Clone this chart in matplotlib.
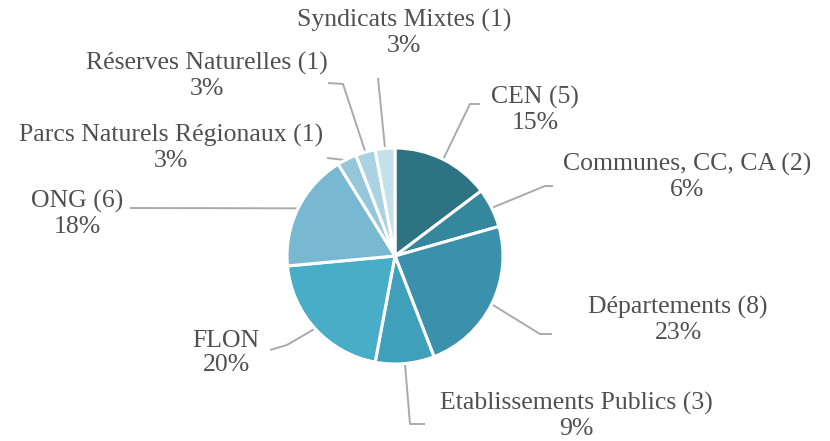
import matplotlib
matplotlib.use("Agg")
import matplotlib.pyplot as plt
import numpy as np

# ---- data ----
names = ["CEN", "Communes, CC, CA", "Départements", "Etablissements Publics",
         "FLON", "ONG", "Parcs Naturels Régionaux", "Réserves Naturelles",
         "Syndicats Mixtes"]
counts = [5, 2, 8, 3, 7, 6, 1, 1, 1]
show_count = [True, True, True, True, False, True, True, True, True]
percents = ["15%", "6%", "23%", "9%", "20%", "18%", "3%", "3%", "3%"]
colors = ["#2e7384", "#35879d", "#3b90ab", "#40a0bb", "#48aec8",
          "#78b9d1", "#94c7da", "#abd2e1", "#c4e0eb"]

# ---- layout (pixels in reference image) ----
W, H = 830, 441
CX, CY, R = 395, 256, 108

def d(px, py):
    return ((px - CX) / R, (CY - py) / R)

label_px = [(535, 110), (687, 177), (678, 320), (576, 416), (226, 353),
            (77, 214), (171, 148), (207, 76), (404, 33)]
# leader paths after the pie-edge point
leader_px = [
    [(470, 104), (480, 104)],
    [(545, 186), (553, 186)],
    [(540, 334), (552, 334)],
    [(410, 424), (425, 424)],
    [(287, 345), (270, 350)],
    [(130, 208)],
    [(327, 158)],
    [(343, 84), (328, 83)],
    [(378, 78)],
]

fig = plt.figure(figsize=(W / 100, H / 100), dpi=100)
ax = fig.add_axes([0, 0, 1, 1])

wedges, _ = ax.pie(counts, colors=colors, startangle=90, counterclock=False,
                   radius=1.0, center=(0, 0),
                   wedgeprops=dict(edgecolor="white", linewidth=2.2))

for i, w in enumerate(wedges):
    ang = np.deg2rad((w.theta1 + w.theta2) / 2)
    start = (np.cos(ang) * 0.99, np.sin(ang) * 0.99)
    pts = [start] + [d(*p) for p in leader_px[i]]
    xs, ys = zip(*pts)
    ax.plot(xs, ys, color="#aaaaaa", lw=1.4, solid_capstyle="butt", zorder=0)
    txt = f"{names[i]} ({counts[i]})" if show_count[i] else names[i]
    txt += "\n" + percents[i]
    lx, ly = d(*label_px[i])
    ax.text(lx, ly, txt, ha="center", va="center", fontsize=18.5,
            family="Liberation Serif", color="#505050", linespacing=1.15)

ax.set_xlim(-CX / R, (W - CX) / R)
ax.set_ylim(-(H - CY) / R, CY / R)
ax.set_aspect("equal")
ax.axis("off")

fig.savefig("out.png", dpi=100)
